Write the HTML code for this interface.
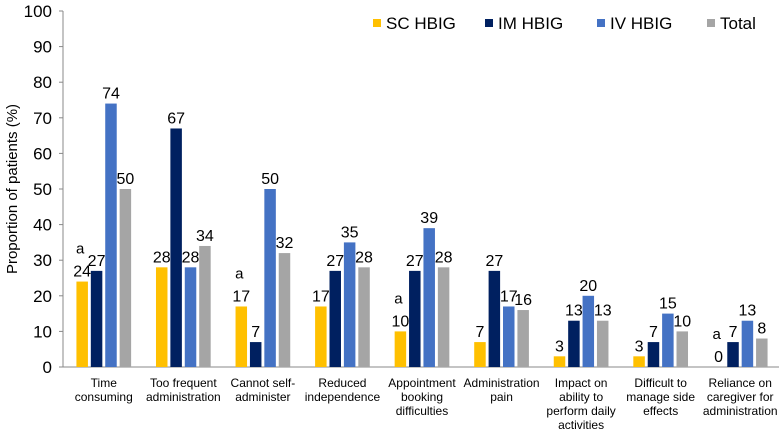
<!DOCTYPE html>
<html><head><meta charset="utf-8"><style>
body{margin:0;background:#fff;}
svg{display:block;font-family:"Liberation Sans","DejaVu Sans",sans-serif;}
</style></head><body>
<svg id="chart" width="781" height="430" viewBox="0 0 781 430" xmlns="http://www.w3.org/2000/svg"></svg>
<script>
const categories=[["Time","consuming"],["Too frequent","administration"],["Cannot self-","administer"],["Reduced","independence"],["Appointment","booking","difficulties"],["Administration","pain"],["Impact on","ability to","perform daily","activities"],["Difficult to","manage side","effects"],["Reliance on","caregiver for","administration"]];
const seriesNames=["SC HBIG","IM HBIG","IV HBIG","Total"];
const scValues=[24,28,17,17,10,7,3,3,0];
const imValues=[27,67,7,27,27,27,13,7,7];
const ivValues=[74,28,50,35,39,17,20,15,13];
const totalValues=[50,34,32,28,28,16,13,10,8];
const aMarks=[true,false,true,false,true,false,false,false,true];
const yTicks=[0,10,20,30,40,50,60,70,80,90,100];
const colors=["#FFC000","#002060","#4472C4","#A5A5A5"];
const series=[scValues,imValues,ivValues,totalValues];
const NS="http://www.w3.org/2000/svg";
const svg=document.getElementById('chart');
const x0=63,x1=779,yZero=367,yTop=11;
const y=v=>yZero-(v/100)*(yZero-yTop);
const bandW=(x1-x0)/categories.length;
function el(t,a,txt){const e=document.createElementNS(NS,t);for(const k in a)e.setAttribute(k,a[k]);if(txt!==undefined)e.textContent=txt;svg.appendChild(e);return e;}
let ax=el('line',{x1:x0,y1:yTop,x2:x0,y2:yZero,stroke:'#888','stroke-width':1});


let bx=el('line',{x1:x0,y1:yZero,x2:x1,y2:yZero,stroke:'#888','stroke-width':1});


yTicks.forEach(t=>{
 let tk=el('line',{x1:x0-4,y1:y(t),x2:x0,y2:y(t),stroke:'#888'});
 
 
 let lb=el('text',{x:52,y:y(t)+6,'text-anchor':'end','font-size':17,fill:'#000'},t);
 
 
});
let yt=el('text',{x:17,y:(yTop+yZero)/2,'text-anchor':'middle','font-size':15,transform:`rotate(-90 17 ${(yTop+yZero)/2})`},'Proportion of patients (%)');


const barW=11.5,step=14.4;
categories.forEach((c,i)=>{
 const cx=x0+bandW*(i+0.5)+1;
 const gx=cx-(step*3+barW)/2;
 series.forEach((s,j)=>{
  const bx0=gx+j*step,v=s[i];
  let r=el('rect',{x:bx0,y:y(v),width:barW,height:yZero-y(v),fill:colors[j]});
  
  
  let t=el('text',{x:bx0+barW/2,y:y(v)-5,'text-anchor':'middle','font-size':16},v);
  
  
  if(j===0&&aMarks[i]){
   let a=el('text',{x:bx0+barW/2-2,y:y(v)-28,'text-anchor':'middle','font-size':15},'a');
   
   
  }
 });
 c.forEach((line,k)=>{
  let t=el('text',{x:cx,y:387+k*14,'text-anchor':'middle','font-size':12},line);
  
  
 });
});
const legX=[373,485,597,707];
seriesNames.forEach((n,j)=>{
 let r=el('rect',{x:legX[j],y:19,width:8,height:8,fill:colors[j]});
 
 
 let t=el('text',{x:legX[j]+13,y:29,'font-size':17},n);
 
 
});
</script>
</body></html>
